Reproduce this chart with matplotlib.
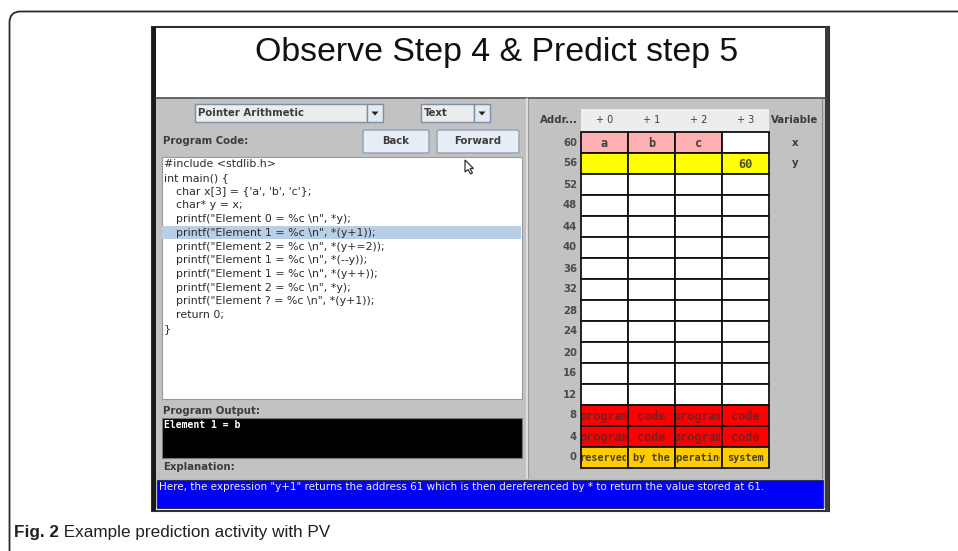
import matplotlib
matplotlib.use("Agg")
import matplotlib.pyplot as plt
from matplotlib.patches import Rectangle, FancyBboxPatch, Polygon
from matplotlib.transforms import Bbox

# ---------------- data ----------------
title = "Observe Step 4 & Predict step 5"
caption_bold = "Fig. 2"
caption_rest = " Example prediction activity with PV"
topic_choice = "Pointer Arithmetic"
view_choice = "Text"
buttons = ["Back", "Forward"]
code_lines = [
    "#include <stdlib.h>",
    "int main() {",
    "   char x[3] = {'a', 'b', 'c'};",
    "   char* y = x;",
    "   printf(\"Element 0 = %c \\n\", *y);",
    "   printf(\"Element 1 = %c \\n\", *(y+1));",
    "   printf(\"Element 2 = %c \\n\", *(y+=2));",
    "   printf(\"Element 1 = %c \\n\", *(--y));",
    "   printf(\"Element 1 = %c \\n\", *(y++));",
    "   printf(\"Element 2 = %c \\n\", *y);",
    "   printf(\"Element ? = %c \\n\", *(y+1));",
    "   return 0;",
    "}",
]
highlight_line = 5
program_output = "Element 1 = b"
explanation = ("Here, the expression \"y+1\" returns the address 61 which is then "
               "dereferenced by * to return the value stored at 61.")
col_headers = ["+ 0", "+ 1", "+ 2", "+ 3"]
addresses = [60, 56, 52, 48, 44, 40, 36, 32, 28, 24, 20, 16, 12, 8, 4, 0]
variables = {60: "x", 56: "y"}
cell_text = {
    60: ["a", "b", "c", ""],
    56: ["", "", "", "60"],
    8: ["program", "code", "program", "code"],
    4: ["program", "code", "program", "code"],
    0: ["reserved", "by the", "operating", "system"],
}
cell_color = {
    60: ["#ffb0b0", "#ffb0b0", "#ffb0b0", "#ffffff"],
    56: ["#ffff00", "#ffff00", "#ffff00", "#ffff00"],
    8: ["#ff0000"] * 4,
    4: ["#ff0000"] * 4,
    0: ["#ffcc00"] * 4,
}
cell_text_color = {60: "#404040", 56: "#505020", 8: "#7a1f1f", 4: "#7a1f1f", 0: "#4a4020"}

# ---------------- figure ----------------
W, H = 958, 551
fig = plt.figure(figsize=(W / 100, H / 100), dpi=100)
ax = fig.add_axes([0, 0, 1, 1])
ax.set_xlim(0, W)
ax.set_ylim(H, 0)
ax.axis("off")
fig.patch.set_facecolor("white")

GUI = "DejaVu Sans"
LBL = "#3c3c3c"

# outer rounded frame
ax.add_patch(FancyBboxPatch((9.5, 11.5), 1000, 600, boxstyle="round,pad=0,rounding_size=11",
                            fc="none", ec="#2a2a2a", lw=1.3))

# window
ax.add_patch(Rectangle((152, 27), 677, 484, fc="white", ec="#303030", lw=1.5))
ax.add_patch(Rectangle((152, 27), 4, 484, fc="#1a1a1a", ec="none"))
ax.add_patch(Rectangle((825, 27), 4, 484, fc="#3a3a3a", ec="none"))
ax.add_patch(Rectangle((156, 98), 669, 410, fc="#c2c2c2", ec="none"))
ax.plot([156, 825], [98, 98], color="#505050", lw=1.2)
# panel separator
ax.plot([527, 527], [99, 478], color="#e8e8e8", lw=1.2)
ax.plot([528.5, 528.5], [99, 478], color="#9a9a9a", lw=0.8)
ax.plot([822, 822], [99, 478], color="#8a8a8a", lw=0.8)

ax.text(497, 52, title, fontsize=24.4, family="Liberation Sans", ha="center", va="center", color="#111111")

# dropdowns
def dropdown(x0, x1, y0, y1, txt):
    ax.add_patch(Rectangle((x0, y0), x1 - x0, y1 - y0, fc="#ececec", ec="#7d8fa3", lw=1))
    ax.add_patch(Rectangle((x1, y0), 16, y1 - y0, fc="#e4eaf1", ec="#7d8fa3", lw=1))
    cx, cy = x1 + 8, (y0 + y1) / 2
    ax.add_patch(Polygon([(cx - 3.5, cy - 1.5), (cx + 3.5, cy - 1.5), (cx, cy + 2.5)], closed=True,
                         fc="#222222", ec="none"))
    ax.text(x0 + 3, (y0 + y1) / 2, txt, fontsize=7.3, family=GUI, weight="bold", color=LBL,
            ha="left", va="center")

dropdown(195, 367, 104, 122, topic_choice)
dropdown(421, 474, 104, 122, view_choice)

ax.text(163, 141, "Program Code:", fontsize=7.3, family=GUI, weight="bold", color=LBL, ha="left", va="center")

for (x0, x1), lab in zip([(363, 429), (437, 519)], buttons):
    ax.add_patch(FancyBboxPatch((x0, 130), x1 - x0, 23, boxstyle="round,pad=0,rounding_size=2",
                                fc="#e6edf5", ec="#8ea2b8", lw=1))
    ax.text((x0 + x1) / 2, 141.5, lab, fontsize=7.3, family=GUI, weight="bold", color=LBL,
            ha="center", va="center")

# code area
ax.add_patch(Rectangle((162, 157), 360, 242, fc="white", ec="#9a9a9a", lw=0.8))
y0, dy = 164, 13.75
ax.add_patch(Rectangle((162.5, y0 + highlight_line * dy - 7), 359, 13.5, fc="#b8cfe6", ec="none"))
for i, line in enumerate(code_lines):
    stripped = line.lstrip(" ")
    indent = 12 if len(stripped) < len(line) else 0
    ax.text(164 + indent, y0 + i * dy, stripped, fontsize=7.9, family=GUI, color="#2c2c2c",
            ha="left", va="center")

# mouse cursor
cx, cy = 465, 160
ax.add_patch(Polygon([(cx, cy), (cx, cy + 12), (cx + 3, cy + 9.5), (cx + 5.5, cy + 14),
                      (cx + 7.5, cy + 13), (cx + 5, cy + 8.5), (cx + 8.5, cy + 8.5)], closed=True,
                     fc="white", ec="#333333", lw=0.9))

# output
ax.text(163, 411, "Program Output:", fontsize=7.3, family=GUI, weight="bold", color=LBL, ha="left", va="center")
ax.add_patch(Rectangle((162, 418), 360, 40, fc="black", ec="#777777", lw=0.8))
ax.text(164, 425, program_output, fontsize=7, family="DejaVu Sans Mono", weight="bold", color="white",
        ha="left", va="center")
ax.text(163, 467, "Explanation:", fontsize=7.3, family=GUI, weight="bold", color=LBL, ha="left", va="center")

# explanation bar
ax.add_patch(Rectangle((157, 480), 666, 28, fc="#0000ff", ec="#303060", lw=0.8))
ax.text(159, 487.5, explanation, fontsize=7.45, family=GUI, color="#f4f0c8", ha="left", va="center")

# memory grid
cols_x = [581, 628, 675, 722, 769]
top, rh = 132, 21
ax.add_patch(Rectangle((581, 109), 188, 22, fc="#ededed", ec="none"))
ax.text(578, 120, "Addr...", fontsize=7.3, family=GUI, weight="bold", color=LBL, ha="right", va="center")
ax.text(795, 120, "Variable", fontsize=7.3, family=GUI, weight="bold", color=LBL, ha="center", va="center")
for j, h in enumerate(col_headers):
    ax.text((cols_x[j] + cols_x[j + 1]) / 2, 120, h, fontsize=7, family=GUI, color=LBL,
            ha="center", va="center")

for r, addr in enumerate(addresses):
    ytop = top + r * rh
    ax.text(577, ytop + rh / 2, str(addr), fontsize=7.3, family=GUI, weight="bold", color="#4a4a4a",
            ha="right", va="center")
    if addr in variables:
        ax.text(795, ytop + rh / 2, variables[addr], fontsize=7.3, family=GUI, weight="bold",
                color=LBL, ha="center", va="center")
    colors = cell_color.get(addr, ["#ffffff"] * 4)
    texts = cell_text.get(addr, [""] * 4)
    fs = 7.4 if addr == 0 else 8.6
    for j in range(4):
        x0c, x1c = cols_x[j], cols_x[j + 1]
        ax.add_patch(Rectangle((x0c, ytop), x1c - x0c, rh, fc=colors[j], ec="#111111", lw=1.3))
        if texts[j]:
            t = ax.text((x0c + x1c) / 2, ytop + rh / 2 - 0.5, texts[j], fontsize=fs,
                        family="DejaVu Sans Mono", weight="bold", color=cell_text_color[addr],
                        ha="center", va="center_baseline", clip_on=True)
            (dx0, dy0), (dx1, dy1) = ax.transData.transform([(x0c + 1.5, ytop + 1), (x1c - 1.5, ytop + rh - 1)])
            t.set_clip_box(Bbox.from_extents(min(dx0, dx1), min(dy0, dy1), max(dx0, dx1), max(dy0, dy1)))

# caption
fig.canvas.draw()
r = fig.canvas.get_renderer()
tb = ax.text(14, 532, caption_bold, fontsize=12.3, family="Liberation Sans", weight="bold",
             color="#231f20", ha="left", va="center")
bb = tb.get_window_extent(renderer=r)
xend = ax.transData.inverted().transform((bb.x1, bb.y0))[0]
ax.text(xend, 532, caption_rest, fontsize=12.3, family="Liberation Sans", color="#231f20",
        ha="left", va="center")

fig.savefig("out.png", dpi=100)
